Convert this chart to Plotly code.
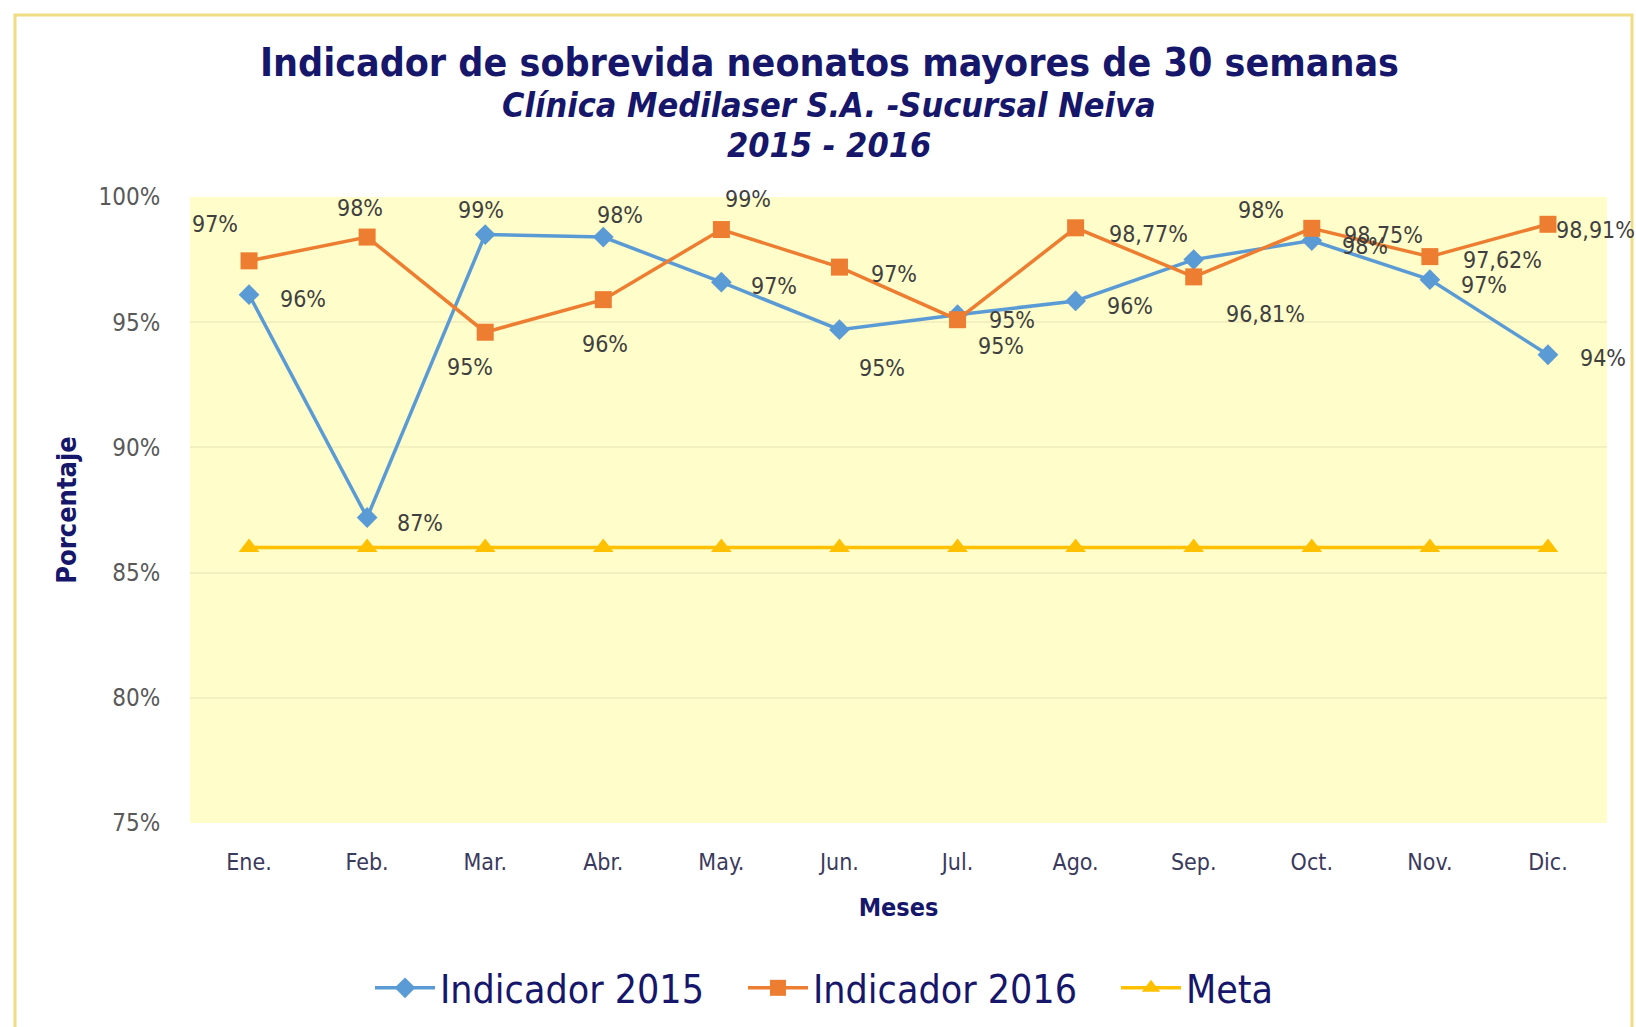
import plotly.graph_objects as go

# Datos
meses = ["Ene.", "Feb.", "Mar.", "Abr.", "May.", "Jun.",
         "Jul.", "Ago.", "Sep.", "Oct.", "Nov.", "Dic."]

indicador_2015 = [96.1, 87.2, 98.5, 98.4, 96.6, 94.7, 95.3, 95.85, 97.5, 98.26, 96.7, 93.7]
etiquetas_2015 = ["96%", "87%", "99%", "98%", "97%", "95%", "95%", "96%", "98%", "98%", "97%", "94%"]

indicador_2016 = [97.45, 98.4, 94.6, 95.9, 98.7, 97.2, 95.1, 98.77, 96.81, 98.75, 97.62, 98.91]
etiquetas_2016 = ["97%", "98%", "95%", "96%", "99%", "97%", "95%",
                  "98,77%", "96,81%", "98,75%", "97,62%", "98,91%"]

meta = [86] * 12

FONT = "DejaVu Sans Condensed, DejaVu Sans, sans-serif"
NAVY = "#16166b"

# colocacion de las etiquetas: (ancla, desplazamiento x, desplazamiento y) en px
pos_2015 = [("left", 29, -4), ("left", 28, -5), ("center", -4, 25), ("center", 17, 22),
            ("left", 28, -4), ("center", 43, -38), ("left", 29, -5), ("left", 29, -5),
            ("center", 67, 50), ("left", 28, -5), ("left", 29, -5), ("left", 30, -3)]
pos_2016 = [("center", -34, 37), ("center", -7, 29), ("center", -15, -35), ("center", 2, -44),
            ("center", 27, 31), ("left", 30, -7), ("center", 43, -26), ("left", 31, -6),
            ("center", 72, -37), ("left", 30, -7), ("left", 31, -3), ("left", 6, -6)]

fig = go.Figure()

fig.add_trace(go.Scatter(
    x=meses, y=indicador_2015, name="Indicador 2015", mode="lines+markers",
    line=dict(color="#5b9bd5", width=3.5),
    marker=dict(symbol="diamond", size=16, color="#5b9bd5"),
))
fig.add_trace(go.Scatter(
    x=meses, y=indicador_2016, name="Indicador 2016", mode="lines+markers",
    line=dict(color="#ed7d31", width=3.5),
    marker=dict(symbol="square", size=17, color="#ed7d31"),
))
fig.add_trace(go.Scatter(
    x=meses, y=meta, name="Meta", mode="lines+markers",
    line=dict(color="#ffc000", width=3.5),
    marker=dict(symbol="triangle-up", size=18, color="#ffc000"),
))

# etiquetas de datos
for valores, etiquetas, posiciones in [(indicador_2015, etiquetas_2015, pos_2015),
                                       (indicador_2016, etiquetas_2016, pos_2016)]:
    for mes, valor, etiqueta, (ancla, dx, dy) in zip(meses, valores, etiquetas, posiciones):
        fig.add_annotation(x=mes, y=valor, text=etiqueta, showarrow=False,
                           xanchor=ancla, yanchor="middle", xshift=dx, yshift=dy,
                           font=dict(family=FONT, size=23, color="#404040"))

# Marco dorado alrededor del grafico
fig.add_shape(type="rect", xref="paper", yref="paper",
              x0=-175 / 1417, x1=1442 / 1417, y0=-1.0, y1=(823 - 15) / 626,
              line=dict(color="#f0dc82", width=3), fillcolor="rgba(0,0,0,0)", layer="below")

titulos = [
    ("<b>Indicador de sobrevida neonatos mayores de 30 semanas</b>", 39, 62),
    ("<b><i>Clínica Medilaser S.A. -Sucursal Neiva</i></b>", 34, 105),
    ("<b><i>2015 - 2016</i></b>", 34, 145),
]
for texto, tam, ypix in titulos:
    fig.add_annotation(text=texto, xref="paper", yref="paper",
                       x=(829 - 190) / 1417, y=(823 - ypix) / 626,
                       xanchor="center", yanchor="middle", showarrow=False,
                       font=dict(family=FONT, size=tam, color=NAVY))

fig.update_layout(
    width=1636, height=1027,
    margin=dict(l=190, r=29, t=197, b=204),
    paper_bgcolor="white",
    plot_bgcolor="#fffdc9",
    font=dict(family=FONT),
    showlegend=True,
    legend=dict(orientation="h", xref="container", x=370 / 1636, xanchor="left",
                yref="container", y=0.038, yanchor="middle",
                font=dict(family=FONT, size=39, color=NAVY),
                itemwidth=60, entrywidth=298, entrywidthmode="pixels"),
)

fig.update_xaxes(
    type="category", range=[-0.5, 11.5],
    tickfont=dict(family=FONT, size=23, color="#3a3a5c"),
    ticks="outside", ticklen=18, tickcolor="rgba(0,0,0,0)",
    showgrid=False, showline=False, zeroline=False,
    title=dict(text="<b>Meses</b>", font=dict(family=FONT, size=25, color=NAVY), standoff=24),
)
fig.update_yaxes(
    range=[75, 100], dtick=5, ticksuffix="%",
    tickfont=dict(family=FONT, size=24, color="#595959"),
    ticks="outside", ticklen=24, tickcolor="rgba(0,0,0,0)",
    showgrid=True, gridcolor="#f3efbf", gridwidth=1.5,
    zeroline=False, showline=False,
    title=dict(text="<b>Porcentaje</b>", font=dict(family=FONT, size=27, color=NAVY), standoff=14),
)

fig.write_html("out.html", config={"displayModeBar": False},
               post_script="document.body.style.margin = '0';")
